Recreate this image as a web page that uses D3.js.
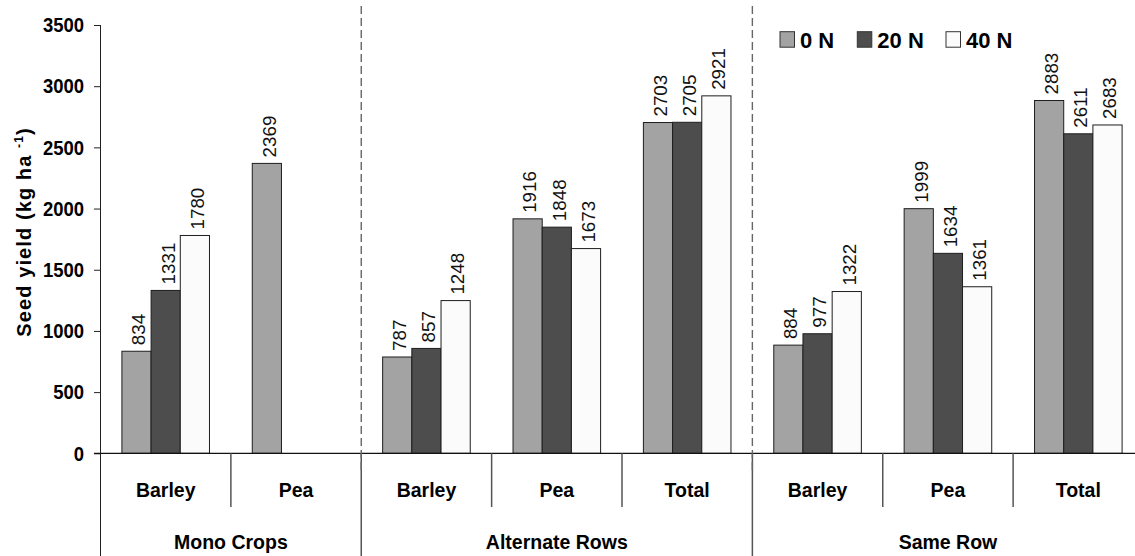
<!DOCTYPE html>
<html>
<head>
<meta charset="utf-8">
<script src="https://cdn.jsdelivr.net/npm/d3@7"></script>
<style>
  html, body { margin: 0; padding: 0; background: #fff; }
  svg { display: block; font-family: Arial, "Liberation Sans", sans-serif; }
</style>
</head>
<body>
<svg id="chart" width="1135" height="556"></svg>
<script>
// Crop categories along the x axis, grouped by planting arrangement
const categories = ["Barley", "Pea", "Barley", "Pea", "Total", "Barley", "Pea", "Total"];
const groupNames = ["Mono Crops", "Alternate Rows", "Same Row"];
const groupSizes = [2, 3, 3];

// Nitrogen rates (series)
const series = ["0 N", "20 N", "40 N"];
const seriesColors = ["#a3a3a3", "#4d4d4d", "#fbfbfb"];

// Seed yield (kg/ha) for each category, one array per nitrogen rate
const yield0N  = [834, 2369, 787, 1916, 2703, 884, 1999, 2883];
const yield20N = [1331, null, 857, 1848, 2705, 977, 1634, 2611];
const yield40N = [1780, null, 1248, 1673, 2921, 1322, 1361, 2683];

const yTicks = [0, 500, 1000, 1500, 2000, 2500, 3000, 3500];

const svg = d3.select("#chart");
const W = 1135, H = 556;

const plotLeft = 100.5, plotRight = 1143.5;
const plotTop = 25, baseY = 453.3;

const y = d3.scaleLinear().domain([0, 3500]).range([baseY, plotTop]);
const x = d3.scaleBand().domain(d3.range(categories.length)).range([plotLeft, plotRight]);
const xs = d3.scaleBand().domain(series).range([0, x.bandwidth()]).paddingOuter(0.733).paddingInner(0);

const seriesValues = [yield0N, yield20N, yield40N];

// Bars
const barData = [];
categories.forEach((c, i) => {
  series.forEach((s, k) => {
    const v = seriesValues[k][i];
    if (v != null) barData.push({ i, s, k, v });
  });
});

svg.append("g").selectAll("rect").data(barData).join("rect")
  .attr("x", d => x(d.i) + xs(d.s))
  .attr("y", d => y(d.v))
  .attr("width", xs.bandwidth())
  .attr("height", d => y(0) - y(d.v))
  .attr("fill", d => seriesColors[d.k])
  .attr("stroke", "#1e1e1e")
  .attr("stroke-width", 1);

// Value labels, rotated above each bar
svg.append("g").selectAll("text").data(barData).join("text")
  .attr("transform", d => `translate(${x(d.i) + xs(d.s) + xs.bandwidth() / 2},${y(d.v) - 6}) rotate(-90)`)
  .attr("y", 8.8)
  .attr("text-anchor", "start")
  .attr("font-size", "18.8px")
  .attr("fill", "#111")
  .text(d => d.v);

// Y axis
const yAxis = d3.axisLeft(y).tickValues(yTicks).tickSize(6.5).tickPadding(10).tickFormat(d3.format("d"));
const gy = svg.append("g").attr("transform", `translate(${plotLeft},0)`).call(yAxis);
gy.select(".domain").remove();
gy.selectAll(".tick line").attr("stroke", "#222");
// Condensed bold tick labels
gy.selectAll(".tick text")
  .attr("font-family", "Arial, 'Liberation Sans', sans-serif")
  .attr("font-size", "21px")
  .attr("font-weight", "bold")
  .attr("fill", "#000")
  .attr("x", -16.5 / 0.88)
  .attr("transform", "scale(0.88,1)");

// Y axis line extends down through the category label area
svg.append("line")
  .attr("x1", plotLeft).attr("x2", plotLeft)
  .attr("y1", y(3500)).attr("y2", H)
  .attr("stroke", "#222").attr("stroke-width", 1);

// X axis baseline
svg.append("line")
  .attr("x1", plotLeft - 6.5).attr("x2", W)
  .attr("y1", baseY).attr("y2", baseY)
  .attr("stroke", "#111").attr("stroke-width", 1.2);

// Group and category boundaries
const groupStarts = [];
let acc = 0;
groupSizes.forEach(n => { groupStarts.push(acc); acc += n; });
const groupBounds = groupStarts.concat([acc]);

const innerBounds = [];
groupStarts.forEach((g, gi) => {
  for (let j = 1; j < groupSizes[gi]; j++) innerBounds.push(g + j);
});

const boundX = i => i < categories.length ? x(i) : plotRight;

svg.append("g").selectAll("line").data(innerBounds).join("line")
  .attr("x1", d => boundX(d)).attr("x2", d => boundX(d))
  .attr("y1", baseY).attr("y2", 507)
  .attr("stroke", "#555").attr("stroke-width", 1.5);

svg.append("g").selectAll("line").data(groupBounds.slice(1)).join("line")
  .attr("x1", d => boundX(d)).attr("x2", d => boundX(d))
  .attr("y1", baseY).attr("y2", H)
  .attr("stroke", "#555").attr("stroke-width", 1.5);

// Dashed separators between planting arrangements
svg.append("g").selectAll("line").data(groupBounds.slice(1, -1)).join("line")
  .attr("x1", d => boundX(d)).attr("x2", d => boundX(d))
  .attr("y1", 6).attr("y2", 472)
  .attr("stroke", "#666").attr("stroke-width", 1.4)
  .attr("stroke-dasharray", "8,4");

// Category labels
svg.append("g").selectAll("text").data(categories).join("text")
  .attr("x", (d, i) => x(i) + x.bandwidth() / 2)
  .attr("y", 497)
  .attr("text-anchor", "middle")
  .attr("font-size", "19.5px")
  .attr("font-weight", "bold")
  .text(d => d);

// Group labels
svg.append("g").selectAll("text").data(groupNames).join("text")
  .attr("x", (d, gi) => (boundX(groupBounds[gi]) + boundX(groupBounds[gi + 1])) / 2)
  .attr("y", 549)
  .attr("text-anchor", "middle")
  .attr("font-size", "19.5px")
  .attr("font-weight", "bold")
  .text(d => d);

// Y axis title with superscript
const title = svg.append("text")
  .attr("transform", `translate(31,232) rotate(-90)`)
  .attr("text-anchor", "middle")
  .attr("font-size", "20px")
  .attr("font-weight", "bold")
  .attr("letter-spacing", "1.1px");
title.append("tspan").text("Seed yield (kg ha ");
title.append("tspan").attr("font-size", "12px").attr("dy", "-8").text("-1");
title.append("tspan").attr("dy", "8").text(")");

// Legend
const legendX = [780, 857.3, 946];
const legend = svg.append("g").selectAll("g").data(series).join("g")
  .attr("transform", (d, k) => `translate(${legendX[k]},31.7)`);
legend.append("rect")
  .attr("width", 14.5).attr("height", 15.5)
  .attr("fill", (d, k) => seriesColors[k])
  .attr("stroke", "#333").attr("stroke-width", 1);
legend.append("text")
  .attr("x", 20).attr("y", 15.8)
  .attr("font-size", "22px")
  .attr("font-weight", "bold")
  .text(d => d);
</script>
</body>
</html>
